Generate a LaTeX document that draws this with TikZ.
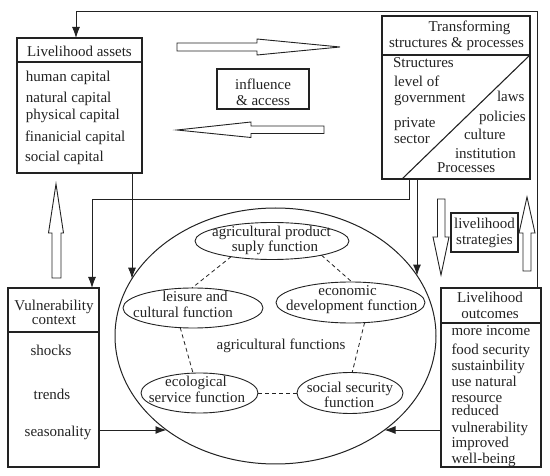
\documentclass[tikz,border=0pt]{standalone}
\usepackage{fontspec}
\setmainfont{Liberation Serif}
\usetikzlibrary{arrows.meta,shapes.geometric}
\definecolor{ink}{HTML}{222222}
\begin{document}
\begin{tikzpicture}[x=1pt,y=-1pt,
  every node/.style={inner sep=0pt, outer sep=0pt, font=\fontsize{15}{16}\selectfont, text=ink},
  box/.style={draw=ink, line width=1.1pt, rectangle, anchor=north west},
  fn/.style={draw=ink, line width=0.9pt, ellipse},
  conn/.style={draw=ink, line width=0.9pt, -{Latex[length=11pt,width=8pt]}},
  hollow/.style={draw=ink, line width=0.9pt, fill=white},
  dline/.style={draw=ink, line width=0.8pt, dash pattern=on 4pt off 3pt},
  sep/.style={draw=ink, line width=1.1pt},
  lbl/.style={anchor=base west},
  ctr/.style={anchor=base},
]
\useasboundingbox (0,0) rectangle (550,476);

% ---------- boxes ----------
\node[box, minimum width=125, minimum height=135] (LA) at (17,38) {};
\node[box, minimum width=92, minimum height=40] (IA) at (217,69) {};
\node[box, minimum width=148, minimum height=163] (TS) at (382,16) {};
\node[box, minimum width=91, minimum height=179] (VC) at (8,288) {};
\node[box, minimum width=100, minimum height=179] (LO) at (441,288) {};
\node[box, minimum width=67, minimum height=39] (LS) at (451,213) {};

\draw[sep] (17,62) -- (142,62);
\draw[sep] (382,55) -- (530,55);
\draw[sep] (530,55) -- (402,179);
\draw[sep] (8,332) -- (99,332);
\draw[sep] (441,323) -- (541,323);

% ---------- ellipses ----------
\node[fn, line width=1pt, minimum width=321, minimum height=256] (funcs) at (275.5,336) {};
\node[fn, minimum width=154, minimum height=37] (agri) at (272,241) {};
\node[fn, minimum width=140, minimum height=40] (leis) at (193,308) {};
\node[fn, minimum width=149, minimum height=41] (econ) at (350.5,302.5) {};
\node[fn, minimum width=117, minimum height=40] (ecol) at (199.5,393) {};
\node[fn, minimum width=106, minimum height=41] (soc) at (350,393) {};

\draw[dline] (agri.201) -- (leis.93);
\draw[dline] (agri.344) -- (econ.86);
\draw[dline] (leis.237) -- (ecol.108);
\draw[dline] (econ.305) -- (soc.84);
\draw[dline] (ecol.east) -- (soc.west);

% ---------- texts ----------
\node[ctr] (LAt) at (79.5,56.5) {Livelihood assets};
\node[lbl] (la1) at (26,82) {human capital};
\node[lbl] (la2) at (26,102.5) {natural capital};
\node[lbl] (la3) at (26,120) {physical capital};
\node[lbl] (la4) at (25,142) {finanicial capital};
\node[lbl] (la5) at (25,162) {social capital};

\node[ctr] (ia1) at (263,90) {influence};
\node[ctr] (ia2) at (263,106) {\& access};

\node[ctr] (ts1) at (469.5,32) {Transforming};
\node[ctr] (ts2) at (456.5,48) {structures \& processes};
\node[lbl] (ts3) at (393,68) {Structures};
\node[lbl] (ts4) at (394,87) {level of};
\node[lbl] (ts5) at (394,103) {government};
\node[lbl] (ts6) at (394,128) {private};
\node[lbl] (ts7) at (394,144) {sector};
\node[lbl] (ts8) at (497,102) {laws};
\node[lbl] (ts9) at (479,122) {policies};
\node[lbl] (ts10) at (464,140) {culture};
\node[lbl] (ts11) at (455,158.5) {institution};
\node[lbl] (ts12) at (437,173) {Processes};

\node[ctr] (vc1) at (54,310.5) {Vulnerability};
\node[ctr] (vc2) at (54,325) {context};
\node[ctr] (vc3) at (51,356) {shocks};
\node[ctr] (vc4) at (52,400) {trends};
\node[ctr] (vc5) at (58,437) {seasonality};

\node[ctr] (lo1) at (490,303) {Livelihood};
\node[ctr] (lo2) at (490,319) {outcomes};
\node[lbl] (lo3) at (451.5,336) {more income};
\node[lbl] (lo4) at (451.5,355) {food security};
\node[lbl] (lo5) at (451.5,371) {sustainbility};
\node[lbl] (lo6) at (451.5,387) {use natural};
\node[lbl] (lo7) at (451.5,402.5) {resource};
\node[lbl] (lo8) at (451.5,416) {reduced};
\node[lbl] (lo9) at (451.5,432) {vulnerability};
\node[lbl] (lo10) at (451.5,448) {improved};
\node[lbl] (lo11) at (451.5,464) {well-being};

\node[ctr] (ls1) at (484.5,229) {livelihood};
\node[ctr] (ls2) at (484.5,244.5) {strategies};

\node[ctr] (ag1) at (271.5,236.5) {agricultural product};
\node[ctr] (ag2) at (275,251.5) {suply function};
\node[ctr] (le1) at (195,302) {leisure and};
\node[ctr] (le2) at (183,318) {cultural function};
\node[ctr] (ec1) at (347.5,295.7) {economic};
\node[ctr] (ec2) at (351.7,311) {development function};
\node[ctr] (eo1) at (196,386.7) {ecological};
\node[ctr] (eo2) at (197,402.7) {service function};
\node[ctr] (so1) at (350,392) {social security};
\node[ctr] (so2) at (349,407) {function};
\node[ctr] (af) at (281,350) {agricultural functions};

% ---------- hollow arrows ----------
\draw[hollow] (177,43) -- (257,43) -- (257,39) -- (340,47) -- (257,55) -- (257,51) -- (177,51) -- cycle;
\draw[hollow] (177,130) -- (251,122) -- (251,126) -- (324,126) -- (324,133.5) -- (251,133.5) -- (251,137.5) -- cycle;
\draw[hollow] (56,184) -- (63.5,233) -- (61,233) -- (61,278) -- (52,278) -- (52,233) -- (48.5,233) -- cycle;
\draw[hollow] (437.5,199) -- (445,199) -- (445,237) -- (449,237) -- (441,275) -- (433,237) -- (437.5,237) -- cycle;
\draw[hollow] (527,197) -- (535,233) -- (531,233) -- (531,271) -- (523,271) -- (523,233) -- (519,233) -- cycle;

% ---------- connectors ----------
\coordinate (tl) at (76,11);
\coordinate (tr) at (537,11);
\draw[conn] (LO.north -| tr) -- (tr) -- (tl) -- (LA.north -| tl);

\coordinate (e1) at (132,278.7);
\draw[conn] (LA.south -| e1) -- (e1);

\coordinate (e2) at (417,275.6);
\draw[conn] (TS.south -| e2) -- (e2);

\coordinate (jn) at (409,199);
\coordinate (jw) at (92,199);
\draw[conn] (TS.south -| jn) -- (jn) -- (jw) -- (VC.north -| jw);

\coordinate (e3) at (166.5,430);
\draw[conn] (VC.east |- e3) -- (e3);

\coordinate (e4) at (384.5,430);
\draw[conn] (LO.west |- e4) -- (e4);
\end{tikzpicture}
\end{document}
